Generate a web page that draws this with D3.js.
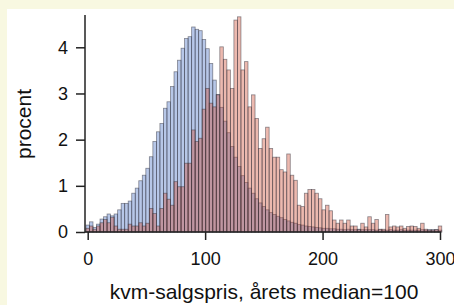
<!DOCTYPE html>
<html>
<head>
<meta charset="utf-8">
<script src="https://cdn.jsdelivr.net/npm/d3@7"></script>
<style>
  body { margin: 0; background: #f8f8e1; }
  svg { display: block; }
  text { font-family: "Liberation Sans", Arial, sans-serif; fill: #111; }
</style>
</head>
<body>
<svg width="454" height="305"></svg>
<script>

// percent of sales per bin, bins are 3 wide, centred on 0, 3, 6 ... 300
var blueVals = [0.15, 0.22, 0.10, 0.17, 0.28, 0.33, 0.39, 0.35, 0.39, 0.48,
  0.62, 0.62, 0.67, 0.84, 0.95, 1.11, 1.23, 1.38, 1.63, 1.96,
  2.17, 2.35, 2.68, 2.82, 3.15, 3.47, 3.72, 3.98, 4.19, 4.23,
  4.44, 4.39, 4.36, 4.17, 3.97, 3.65, 3.29, 2.98, 2.70, 2.40,
  2.15, 1.85, 1.62, 1.42, 1.22, 1.07, 0.95, 0.84, 0.72, 0.63,
  0.55, 0.48, 0.42, 0.38, 0.34, 0.31, 0.27, 0.24, 0.21, 0.19,
  0.16, 0.15, 0.13, 0.12, 0.11, 0.10, 0.09, 0.08, 0.08, 0.07,
  0.07, 0.06, 0.06, 0.05, 0.06, 0.05, 0.05, 0.06, 0.05, 0.05,
  0.05, 0.05, 0.04, 0.05, 0.04, 0.04, 0.05, 0.04, 0.04, 0.05,
  0.04, 0.04, 0.04, 0.04, 0.04, 0.05, 0.04, 0.05, 0.05, 0.05, 0.04];

var redVals = [0.08, 0.13, 0.06, 0.13, 0.20, 0.27, 0.20, 0.32, 0.13, 0.06,
  0.06, 0.06, 0.17, 0.13, 0.13, 0.20, 0.13, 0.19, 0.51, 0.40,
  0.13, 0.51, 0.84, 0.71, 0.58, 1.09, 0.98, 0.98, 1.49, 1.49,
  2.21, 1.96, 2.03, 2.66, 3.11, 2.79, 2.71, 2.97, 4.01, 3.74,
  3.51, 3.11, 4.59, 4.66, 3.51, 3.69, 2.71, 2.97, 2.46, 1.81,
  2.02, 2.27, 1.81, 1.62, 1.62, 1.35, 1.30, 1.69, 1.23, 1.12,
  0.58, 0.55, 0.84, 0.92, 0.92, 0.84, 0.72, 0.48, 0.58, 0.46,
  0.26, 0.19, 0.26, 0.19, 0.26, 0.13, 0.13, 0.05, 0.19, 0.11,
  0.33, 0.19, 0.27, 0.06, 0.06, 0.38, 0.11, 0.13, 0.11, 0.13,
  0.08, 0.12, 0.13, 0.12, 0.08, 0.19, 0.06, 0.04, 0.04, 0.05, 0.13];

var binWidth = 3;
var xTicks = [0, 100, 200, 300];
var yTicks = [0, 1, 2, 3, 4];

var svg = d3.select("svg");

// white panel
svg.append("rect")
  .attr("x", 7).attr("y", 9)
  .attr("width", 447).attr("height", 296)
  .attr("fill", "#fff");

var x = d3.scaleLinear().domain([0, 300]).range([87.7, 440]);
var y = d3.scaleLinear().domain([0, 4]).range([232, 47.3]);

function drawBars(vals, fill) {
  svg.append("g")
    .selectAll("rect")
    .data(vals)
    .enter()
    .append("rect")
      .attr("x", function (d, i) { return x(i * binWidth - binWidth / 2); })
      .attr("width", x(binWidth) - x(0))
      .attr("y", function (d) { return y(d); })
      .attr("height", function (d) { return y(0) - y(d); })
      .attr("fill", fill)
      .attr("stroke", "rgba(50,50,60,0.55)")
      .attr("stroke-width", 0.8);
}

drawBars(blueVals, "rgba(95,130,205,0.45)");
drawBars(redVals, "rgba(205,70,45,0.38)");

// axes
var yAxis = svg.append("g")
  .attr("transform", "translate(85,0)")
  .call(d3.axisLeft(y).tickValues(yTicks).tickFormat(d3.format("d"))
    .tickSize(9).tickPadding(8));
var xAxis = svg.append("g")
  .attr("transform", "translate(0,232)")
  .call(d3.axisBottom(x).tickValues(xTicks).tickFormat(d3.format("d"))
    .tickSize(8).tickPadding(12));

yAxis.select(".domain").remove();
xAxis.select(".domain").remove();
svg.selectAll(".tick line").attr("stroke", "#222").attr("stroke-width", 1.5);
svg.selectAll(".tick text").attr("font-size", 18).attr("fill", "#111")
  .attr("font-family", "Liberation Sans, Arial, sans-serif");

svg.append("line")
  .attr("x1", 85).attr("x2", 85).attr("y1", 15).attr("y2", 232.5)
  .attr("stroke", "#222").attr("stroke-width", 1.5);
svg.append("line")
  .attr("x1", 85).attr("x2", 441).attr("y1", 232).attr("y2", 232)
  .attr("stroke", "#222").attr("stroke-width", 1.5);

// titles
svg.append("text")
  .attr("x", 264).attr("y", 299)
  .attr("text-anchor", "middle")
  .attr("font-size", 21)
  .text("kvm-salgspris, årets median=100");

svg.append("text")
  .attr("transform", "translate(31,124) rotate(-90)")
  .attr("text-anchor", "middle")
  .attr("font-size", 21)
  .text("procent");

</script>
</body>
</html>
